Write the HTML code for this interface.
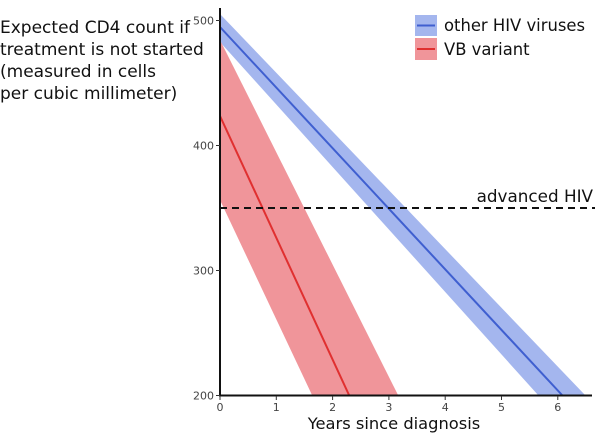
<!DOCTYPE html>
<html><head><style>body{margin:0;background:#fff}svg{display:block}</style></head><body>
<svg width="600" height="439" xmlns="http://www.w3.org/2000/svg" font-family="DejaVu Sans, Liberation Sans, sans-serif">
<rect width="600" height="439" fill="#fff"/>
<text font-size="17" fill="#111">
<tspan x="0" y="33">Expected CD4 count if</tspan>
<tspan x="0" y="55">treatment is not started</tspan>
<tspan x="0" y="77">(measured in cells</tspan>
<tspan x="0" y="99">per cubic millimeter)</tspan>
</text>
<polygon points="220,14 585,395 538,395 220,42" fill="#a4b6ee"/>
<line x1="220" y1="27" x2="562" y2="395" stroke="#3f5fd0" stroke-width="2"/>
<polygon points="220,40 398,395 312,395 220,200" fill="#f0959a"/>
<line x1="220" y1="116" x2="349" y2="395" stroke="#e03030" stroke-width="2"/>
<line x1="220" y1="208" x2="595" y2="208" stroke="#111" stroke-width="2" stroke-dasharray="7,5"/>
<text x="593" y="202" font-size="16.8" text-anchor="end" fill="#111">advanced HIV</text>
<line x1="220" y1="8" x2="220" y2="396" stroke="#111" stroke-width="2"/>
<line x1="219" y1="395.5" x2="592" y2="395.5" stroke="#111" stroke-width="2"/>
<g stroke="#333" stroke-width="1">
<line x1="216" y1="20.5" x2="220" y2="20.5"/><line x1="216" y1="145.5" x2="220" y2="145.5"/><line x1="216" y1="270.5" x2="220" y2="270.5"/><line x1="216" y1="395.5" x2="220" y2="395.5"/>
<line x1="220" y1="396" x2="220" y2="400"/><line x1="276.3" y1="396" x2="276.3" y2="400"/><line x1="332.6" y1="396" x2="332.6" y2="400"/><line x1="388.9" y1="396" x2="388.9" y2="400"/><line x1="445.2" y1="396" x2="445.2" y2="400"/><line x1="501.5" y1="396" x2="501.5" y2="400"/><line x1="557.8" y1="396" x2="557.8" y2="400"/>
</g>
<g font-size="11" fill="#444" text-anchor="end">
<text x="214" y="24.5">500</text><text x="214" y="149.5">400</text><text x="214" y="274.5">300</text><text x="214" y="399.5">200</text>
</g>
<g font-size="11" fill="#444" text-anchor="middle">
<text x="220" y="411">0</text><text x="276.3" y="411">1</text><text x="332.6" y="411">2</text><text x="388.9" y="411">3</text><text x="445.2" y="411">4</text><text x="501.5" y="411">5</text><text x="557.8" y="411">6</text>
</g>
<text x="394" y="429" font-size="16.3" text-anchor="middle" fill="#111">Years since diagnosis</text>
<rect x="415" y="15" width="22" height="21" fill="#a4b6ee"/>
<line x1="417" y1="25.5" x2="435" y2="25.5" stroke="#3f5fd0" stroke-width="2"/>
<rect x="415" y="38" width="22" height="22" fill="#f0959a"/>
<line x1="417" y1="49" x2="435" y2="49" stroke="#e03030" stroke-width="2"/>
<text x="444" y="31" font-size="16.4" fill="#111">other HIV viruses</text>
<text x="444" y="55" font-size="16.4" fill="#111">VB variant</text>
</svg>
</body></html>
